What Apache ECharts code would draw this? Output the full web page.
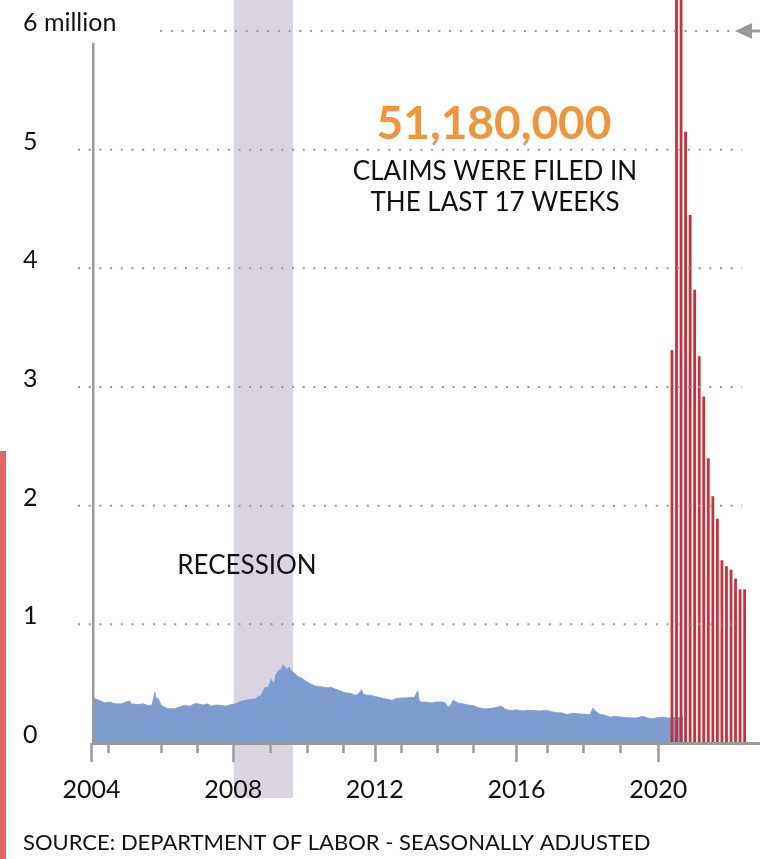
<!DOCTYPE html>
<html><head><meta charset="utf-8">
<style>html,body{margin:0;padding:0;background:#fff}#c{width:760px;height:859px}</style>
<script src="https://cdn.jsdelivr.net/npm/echarts@6/dist/echarts.min.js"></script>
</head><body><div id="c"></div>
<script>
const FONT = 'Lato, "Noto Sans", sans-serif';

// Weekly initial claims (millions)
const claimYears = [2004.07,2004.12,2004.21,2004.38,2004.52,2004.67,2004.84,2005.08,2005.12,2005.32,2005.46,2005.60,2005.71,2005.79,2005.84,2005.88,2005.96,2006.08,2006.16,2006.25,2006.35,2006.44,2006.63,2006.78,2006.90,2007.01,2007.15,2007.26,2007.38,2007.52,2007.66,2007.80,2007.94,2008.08,2008.22,2008.36,2008.51,2008.62,2008.70,2008.79,2008.89,2008.99,2009.07,2009.15,2009.21,2009.27,2009.35,2009.41,2009.46,2009.52,2009.58,2009.65,2009.75,2009.83,2009.92,2010.03,2010.11,2010.22,2010.31,2010.40,2010.54,2010.68,2010.76,2010.88,2011.02,2011.16,2011.30,2011.44,2011.53,2011.63,2011.67,2011.75,2011.91,2012.03,2012.19,2012.32,2012.48,2012.60,2012.76,2012.88,2013.04,2013.11,2013.21,2013.25,2013.32,2013.45,2013.61,2013.73,2013.89,2013.98,2014.07,2014.15,2014.21,2014.35,2014.49,2014.63,2014.77,2014.91,2015.08,2015.25,2015.42,2015.58,2015.68,2015.82,2015.99,2016.18,2016.33,2016.47,2016.66,2016.85,2016.97,2017.14,2017.26,2017.42,2017.57,2017.79,2017.93,2018.08,2018.16,2018.22,2018.36,2018.50,2018.64,2018.78,2018.92,2019.06,2019.20,2019.37,2019.57,2019.71,2019.85,2019.99,2020.14,2020.28,2020.38,2020.53,2020.70];
const claimValues = [0.375,0.386,0.36,0.338,0.345,0.33,0.33,0.355,0.33,0.324,0.33,0.316,0.32,0.428,0.36,0.38,0.32,0.30,0.288,0.29,0.288,0.30,0.316,0.31,0.33,0.33,0.32,0.33,0.31,0.32,0.316,0.31,0.324,0.33,0.352,0.36,0.37,0.37,0.39,0.40,0.465,0.47,0.535,0.50,0.58,0.605,0.62,0.66,0.667,0.62,0.64,0.605,0.585,0.56,0.55,0.526,0.51,0.493,0.48,0.478,0.47,0.465,0.47,0.455,0.44,0.423,0.42,0.403,0.41,0.45,0.41,0.405,0.40,0.39,0.38,0.37,0.36,0.375,0.38,0.38,0.386,0.38,0.44,0.36,0.344,0.345,0.338,0.345,0.346,0.34,0.30,0.325,0.36,0.338,0.33,0.32,0.315,0.30,0.288,0.29,0.30,0.31,0.285,0.274,0.28,0.27,0.275,0.274,0.27,0.277,0.265,0.254,0.255,0.24,0.25,0.245,0.243,0.24,0.295,0.27,0.24,0.235,0.217,0.225,0.22,0.215,0.212,0.21,0.225,0.21,0.205,0.215,0.217,0.21,0.212,0.215,0.217];

// Last 17 weeks (millions)
const lastWeeks = ['3/21','3/28','4/4','4/11','4/18','4/25','5/2','5/9','5/16','5/23','5/30','6/6','6/13','6/20','6/27','7/4','7/11'];
const lastWeekClaims = [3.31,6.87,6.62,5.15,4.45,3.82,3.26,2.92,2.40,2.08,1.89,1.54,1.49,1.46,1.385,1.295,1.295];

const yTicks = [1,2,3,4,5];
const yearLabels = [2004,2008,2012,2016,2020];
const minorTickYears = [2004.47,2005.96,2006.98,2009.06,2010.09,2011.10,2012.74,2013.76,2014.77,2016.87,2017.88,2018.92];
const recession = [2008.02, 2009.69];
const totalText = '51,180,000';

const xMin = 2003.62, xMax = 2022.45;
const axisYear = 2004.05;
const AX = '#9a9a9a';

const chart = echarts.init(document.getElementById('c'), null, {renderer:'canvas'});
chart.setOption({
  animation:false,
  grid:[{left:78,right:15,top:31,bottom:116},{left:669.7,right:13.1,top:31,bottom:116}],
  xAxis:[
    {type:'value',gridIndex:0,position:'bottom',min:xMin,max:xMax,axisLine:{show:false},splitLine:{show:false},
     axisTick:{show:true,customValues:minorTickYears,length:10,lineStyle:{color:AX,width:2.5}},
     axisLabel:{show:false}},
    {type:'value',gridIndex:0,position:'bottom',min:xMin,max:xMax,axisLine:{show:false},splitLine:{show:false},
     axisTick:{show:true,customValues:yearLabels,length:19,lineStyle:{color:AX,width:2.5}},
     axisLabel:{customValues:yearLabels,formatter:v=>String(Math.round(v)),margin:34,fontSize:25,color:'#111',fontFamily:FONT}},
    {type:'category',gridIndex:1,data:lastWeeks,show:false}
  ],
  yAxis:[
    {type:'value',gridIndex:0,min:0,max:6,interval:1,axisLine:{show:false},axisTick:{show:false},splitLine:{show:false},
     axisLabel:{align:'left',verticalAlign:'bottom',lineHeight:16,margin:55,fontSize:25,color:'#111',fontFamily:FONT,
       formatter:v=>v===6?'6 million':String(v)}},
    {type:'value',gridIndex:1,min:0,max:6,show:false,splitLine:{show:false}}
  ],
  series:[
    {type:'line',xAxisIndex:0,yAxisIndex:0,data:claimYears.map((y,i)=>[y,claimValues[i]]),
     symbol:'none',lineStyle:{width:0.8,color:'#7f9cd0'},areaStyle:{color:'#7f9cd0',opacity:1},z:3},
    {type:'bar',xAxisIndex:2,yAxisIndex:1,data:lastWeekClaims,barWidth:2.8,clip:false,
     itemStyle:{color:'#c8303b'},z:4}
  ]
});

const X = v => chart.convertToPixel({xAxisIndex:0}, v);
const Y = v => chart.convertToPixel({yAxisIndex:0}, v);
const W = chart.getWidth();
const g = [];
// recession band
g.push({type:'rect',z:-10,shape:{x:X(recession[0]),y:0,width:X(recession[1])-X(recession[0]),height:Y(0)+55},style:{fill:'#dad4e2'}});
// gridlines
yTicks.forEach(v=>{
  g.push({type:'line',z:20,shape:{x1:X(xMin),y1:Y(v),x2:X(xMax)-3,y2:Y(v)},style:{stroke:AX,lineWidth:2,lineDash:[2,8.7]}});
});
g.push({type:'line',z:20,shape:{x1:X(2005.94),y1:Y(6),x2:X(2022.1),y2:Y(6)},style:{stroke:AX,lineWidth:2,lineDash:[2,8.7]}});
// arrow
const tip = X(2022.17), y6 = Y(6);
g.push({type:'polygon',z:20,shape:{points:[[tip,y6],[tip+17,y6-8],[tip+17,y6+8]]},style:{fill:AX}});
g.push({type:'line',z:20,shape:{x1:tip+15,y1:y6,x2:W,y2:y6},style:{stroke:AX,lineWidth:3}});
// axis lines
g.push({type:'line',z:20,shape:{x1:X(axisYear),y1:Y(5.9),x2:X(axisYear),y2:Y(0)},style:{stroke:AX,lineWidth:2.5}});
g.push({type:'line',z:20,shape:{x1:X(axisYear)-1.2,y1:Y(0)+0.5,x2:W,y2:Y(0)+0.5},style:{stroke:AX,lineWidth:3}});
// texts
g.push({type:'text',z:30,x:494,y:124,style:{text:totalText,fill:'#f0953a',font:'bold 46px '+FONT,align:'center',verticalAlign:'middle'}});
g.push({type:'text',z:30,x:495,y:172,style:{text:'CLAIMS WERE FILED IN',fill:'#111',font:'26px '+FONT,align:'center',verticalAlign:'middle'}});
g.push({type:'text',z:30,x:495,y:203,style:{text:'THE LAST 17 WEEKS',fill:'#111',font:'26px '+FONT,align:'center',verticalAlign:'middle'}});
g.push({type:'text',z:30,x:247,y:566,style:{text:'RECESSION',fill:'#111',font:'26px '+FONT,align:'center',verticalAlign:'middle'}});
g.push({type:'text',z:30,x:23,y:843,style:{text:'SOURCE: DEPARTMENT OF LABOR - SEASONALLY ADJUSTED',fill:'#111',font:'22px '+FONT,align:'left',verticalAlign:'middle'}});
// left edge strip
g.push({type:'rect',z:30,shape:{x:0,y:451,width:6,height:408},style:{fill:'#e0646b'}});
chart.setOption({graphic:g});
</script></body></html>
